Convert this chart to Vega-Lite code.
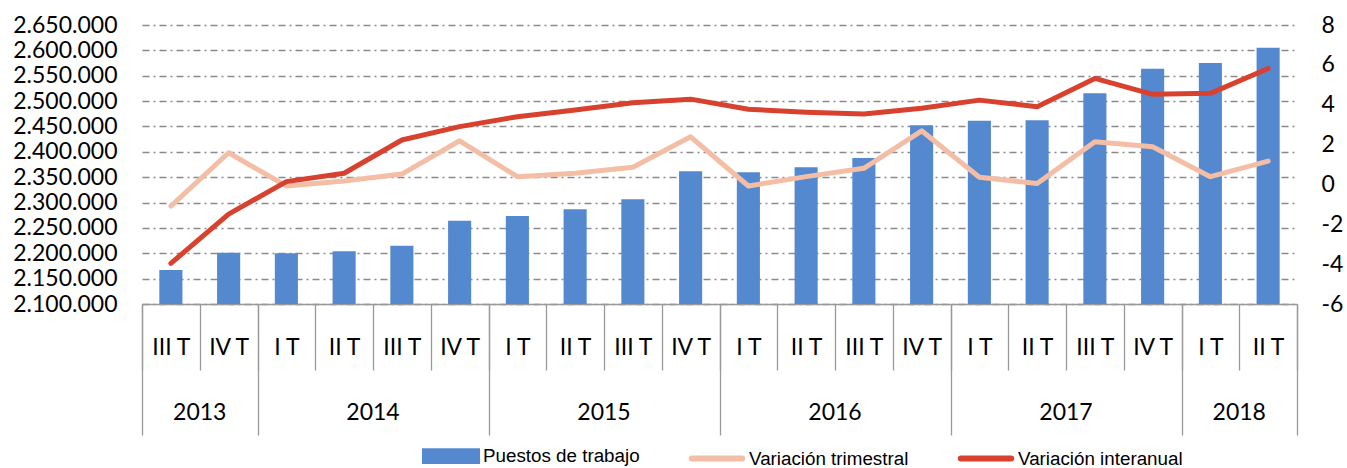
{
  "$schema": "https://vega.github.io/schema/vega-lite/v6.json",
  "width": 1155,
  "height": 279,
  "autosize": {"type": "none"},
  "padding": {"left": 142, "top": 25, "right": 50, "bottom": 164},
  "config": {
    "view": {"stroke": null},
    "font": "Lato",
    "locale": {"number": {"decimal": ",", "thousands": ".", "grouping": [3], "currency": ["", " €"], "minus": "-"}}
  },
  "data": {
    "values": [
      {"periodo": "2013 III T", "puestos": 2167000, "trimestral": -1.09, "interanual": -3.96},
      {"periodo": "2013 IV T", "puestos": 2201000, "trimestral": 1.59, "interanual": -1.49},
      {"periodo": "2014 I T", "puestos": 2200000, "trimestral": -0.08, "interanual": 0.14},
      {"periodo": "2014 II T", "puestos": 2204000, "trimestral": 0.17, "interanual": 0.56},
      {"periodo": "2014 III T", "puestos": 2215000, "trimestral": 0.52, "interanual": 2.23},
      {"periodo": "2014 IV T", "puestos": 2264000, "trimestral": 2.19, "interanual": 2.9},
      {"periodo": "2015 I T", "puestos": 2273500, "trimestral": 0.39, "interanual": 3.4},
      {"periodo": "2015 II T", "puestos": 2286700, "trimestral": 0.56, "interanual": 3.73},
      {"periodo": "2015 III T", "puestos": 2306400, "trimestral": 0.86, "interanual": 4.1},
      {"periodo": "2015 IV T", "puestos": 2361600, "trimestral": 2.39, "interanual": 4.28},
      {"periodo": "2016 I T", "puestos": 2359600, "trimestral": -0.08, "interanual": 3.77},
      {"periodo": "2016 II T", "puestos": 2369500, "trimestral": 0.39, "interanual": 3.62},
      {"periodo": "2016 III T", "puestos": 2387800, "trimestral": 0.81, "interanual": 3.53},
      {"periodo": "2016 IV T", "puestos": 2452300, "trimestral": 2.69, "interanual": 3.82},
      {"periodo": "2017 I T", "puestos": 2461400, "trimestral": 0.36, "interanual": 4.23},
      {"periodo": "2017 II T", "puestos": 2462000, "trimestral": 0.05, "interanual": 3.9},
      {"periodo": "2017 III T", "puestos": 2515300, "trimestral": 2.14, "interanual": 5.32},
      {"periodo": "2017 IV T", "puestos": 2563900, "trimestral": 1.89, "interanual": 4.52},
      {"periodo": "2018 I T", "puestos": 2575100, "trimestral": 0.39, "interanual": 4.57},
      {"periodo": "2018 II T", "puestos": 2605300, "trimestral": 1.17, "interanual": 5.82}
    ]
  },
  "layer": [
    {
      "mark": {"type": "bar", "width": {"band": 0.4}, "clip": true},
      "encoding": {
        "x": {
          "field": "periodo", "type": "nominal", "sort": null,
          "scale": {"paddingInner": 0, "paddingOuter": 0},
          "axis": {
            "orient": "bottom", "title": null, "labelAngle": 0,
            "labelExpr": "isString(datum.value) ? slice(datum.value, 5) : ''",
            "tickBand": "extent", "tickSize": 66, "tickColor": "#999999", "tickWidth": 1.3,
            "domain": true, "domainColor": "#999999", "domainWidth": 1.3,
            "labelFont": "Lato", "labelFontSize": 23, "labelColor": "#000000", "labelAlign": "center",
            "labelBaseline": "middle", "labelPadding": -23, "labelOverlap": false, "labelBound": false, "labelFlush": false,
            "grid": false
          }
        },
        "y": {
          "field": "puestos", "type": "quantitative",
          "scale": {"domain": [2100000, 2650000], "zero": false, "nice": false},
          "axis": {
            "orient": "left", "title": null,
            "values": [2100000, 2150000, 2200000, 2250000, 2300000, 2350000, 2400000, 2450000, 2500000, 2550000, 2600000, 2650000],
            "format": ",d", "domain": false, "ticks": false, "labelPadding": 25,
            "labelFont": "Lato", "labelFontSize": 23, "labelColor": "#000000",
            "labelOverlap": false, "labelFlush": false, "labelBound": false,
            "grid": true, "gridColor": "#8a8a8a", "gridWidth": 1.3, "gridDash": [7, 4, 2, 4]
          }
        },
        "color": {
          "datum": "Puestos de trabajo",
          "scale": {
            "domain": ["Puestos de trabajo", "Variación trimestral", "Variación interanual"],
            "range": ["#5589CF", "#F4BEA6", "#D9412F"]
          },
          "legend": {
            "orient": "none", "legendX": 278, "legendY": 400, "direction": "horizontal",
            "title": null, "padding": 0, "symbolSize": 3136, "symbolStrokeWidth": 6, "columnPadding": 39,
            "labelFont": "Liberation Sans", "labelFontSize": 18.8, "labelColor": "#000000",
            "labelOffset": 1, "labelLimit": 400,
            "encode": {
              "symbols": {
                "update": {
                  "size": {"value": 3136},
                  "shape": {"signal": "datum.value === 'Puestos de trabajo' ? 'M-0.93,-0.17H0.93V0.17H-0.93Z' : 'M-0.9,0H0.9'"},
                  "fill": {"signal": "datum.value === 'Puestos de trabajo' ? '#5589CF' : 'transparent'"},
                  "stroke": {"signal": "datum.value === 'Puestos de trabajo' ? 'transparent' : (datum.value === 'Variación trimestral' ? '#F4BEA6' : '#D9412F')"},
                  "strokeWidth": {"value": 6},
                  "strokeCap": {"value": "round"},
                  "opacity": {"value": 1}
                }
              }
            }
          }
        }
      }
    },
    {
      "mark": {"type": "line", "strokeWidth": 5, "strokeCap": "round", "strokeJoin": "round"},
      "encoding": {
        "x": {
          "field": "periodo", "type": "nominal", "sort": null,
          "axis": {
            "orient": "bottom", "title": null, "labels": false, "domain": false, "grid": false,
            "values": ["2013 III T", "2013 IV T", "2014 IV T", "2015 IV T", "2016 IV T", "2017 IV T", "2018 II T"],
            "tickBand": "extent", "tickSize": 131, "tickColor": "#999999", "tickWidth": 1.3,
            "tickOpacity": {"condition": {"test": "datum.value === '2013 III T'", "value": 0}, "value": 1}
          }
        },
        "y": {
          "field": "trimestral", "type": "quantitative",
          "scale": {"domain": [-6, 8], "zero": false, "nice": false},
          "axis": {
            "orient": "right", "title": null, "values": [-6, -4, -2, 0, 2, 4, 6, 8], "format": "d",
            "domain": false, "ticks": false, "grid": false, "labelPadding": 24,
            "labelFont": "Lato", "labelFontSize": 23, "labelColor": "#000000",
            "labelOverlap": false, "labelFlush": false, "labelBound": false
          }
        },
        "color": {"datum": "Variación trimestral"}
      }
    },
    {
      "mark": {"type": "line", "strokeWidth": 5, "strokeCap": "round", "strokeJoin": "round"},
      "encoding": {
        "x": {
          "field": "periodo", "type": "nominal", "sort": null,
          "axis": {
            "orient": "bottom", "title": null, "domain": false, "grid": false, "ticks": false,
            "values": ["2013 IV T", "2014 III T", "2015 III T", "2016 III T", "2017 III T", "2018 II T"],
            "labelOffset": -28.9, "labelAngle": 0, "labelAlign": "center",
            "labelExpr": "isString(datum.value) ? slice(datum.value, 0, 4) : ''",
            "labelFont": "Lato", "labelFontSize": 23, "labelColor": "#000000",
            "labelBaseline": "middle", "labelPadding": 108, "labelOverlap": false, "labelBound": false, "labelFlush": false
          }
        },
        "y": {
          "field": "interanual", "type": "quantitative",
          "scale": {"domain": [-6, 8], "zero": false, "nice": false},
          "axis": null
        },
        "color": {"datum": "Variación interanual"}
      }
    }
  ],
  "resolve": {
    "scale": {"y": "independent"},
    "axis": {"x": "independent", "y": "independent"}
  }
}
